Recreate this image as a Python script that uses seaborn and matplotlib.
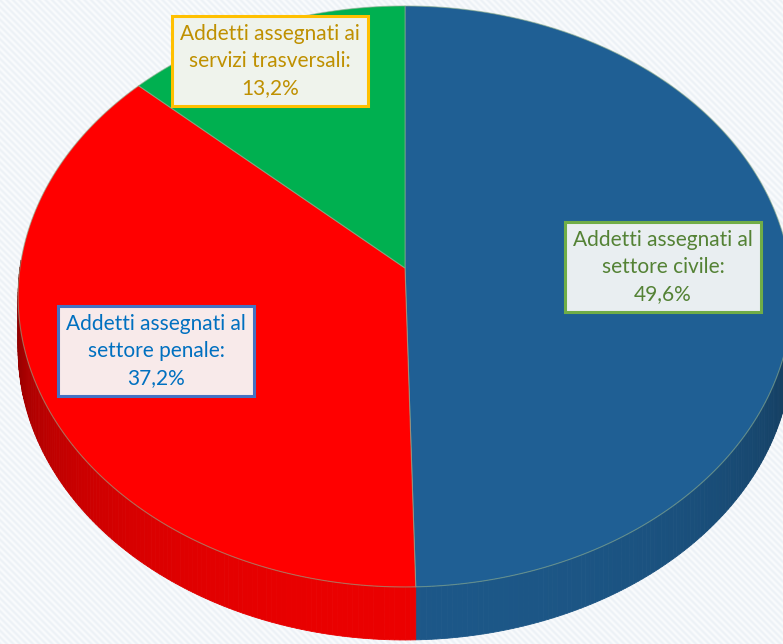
import numpy as np
import matplotlib
matplotlib.use("Agg")
import matplotlib.pyplot as plt
from matplotlib.patches import Polygon
import matplotlib.colors as mcolors
import seaborn as sns

# ---- data -------------------------------------------------------------
label_heads = [
    "Addetti assegnati al\nsettore civile:",
    "Addetti assegnati al\nsettore penale:",
    "Addetti assegnati ai\nservizi trasversali:",
]
shares = [49.6, 37.2, 13.2]
slice_colors = ["#1f5f94", "#ff0000", "#00b050"]
text_colors = ["#548235", "#0070c0", "#bf9000"]
box_faces = ["#e9eef1", "#f8eaea", "#eff3ec"]
box_edges = ["#70ad47", "#4472c4", "#ffc000"]

# ---- figure -----------------------------------------------------------
W, H = 783, 644
sns.set_theme(style="white")
plt.rcParams["font.family"] = ["Lato", "DejaVu Sans"]

fig = plt.figure(figsize=(W / 100, H / 100), dpi=100)
ax = fig.add_axes([0, 0, 1, 1])

# slice geometry computed by matplotlib's pie
wedges, _ = ax.pie(shares, colors=slice_colors, startangle=90,
                   counterclock=False, radius=1.0, center=(0, 0))
geom = [(w.theta1, w.theta2) for w in wedges]
for w in wedges:
    w.remove()

ax.set_aspect("auto")
ax.set_xlim(0, W)
ax.set_ylim(H, 0)
ax.axis("off")

# faint diagonal stripe background
yy, xx = np.mgrid[0:H, 0:W]
phase = 0.5 + 0.5 * np.cos(2 * np.pi * (xx - yy) / 6.5)
base = np.array([0.978, 0.985, 0.992])
stripe = np.array([0.88, 0.91, 0.94])
mix = phase[..., None] * 0.5
bg = base[None, None, :] * (1 - mix) + stripe[None, None, :] * mix
ax.imshow(bg, extent=(0, W, H, 0), interpolation="bilinear", zorder=0, aspect="auto")

# perspective view of the disc
CX, CY, RX, RY, K = 405.0, 268.0, 385.0, 287.7, 0.098
DEPTH = 53.0


def project(u, v, drop=0.0):
    w = 1.0 + K * v
    return CX + RX * u / w, CY - RY * v / w + drop


# side wall (front half only), shaded by orientation
for (t1, t2), col in zip(geom, slice_colors):
    rgb = np.array(mcolors.to_rgb(col))
    ts = np.linspace(t1, t2, max(int((t2 - t1) / 0.7), 2))
    for a, b in zip(ts[:-1], ts[1:]):
        mid = np.radians(0.5 * (a + b))
        if np.sin(mid) > 0.03:
            continue
        lit = max(-np.sin(mid), 0.0)
        factor = 0.42 + 0.5 * lit ** 0.6
        ra, rb = np.radians(a), np.radians(b)
        x1, y1 = project(np.cos(ra), np.sin(ra))
        x2, y2 = project(np.cos(rb), np.sin(rb))
        x3, y3 = project(np.cos(rb), np.sin(rb), DEPTH)
        x4, y4 = project(np.cos(ra), np.sin(ra), DEPTH)
        c = np.clip(rgb * factor, 0, 1)
        ax.add_patch(Polygon([(x1, y1), (x2, y2), (x3, y3), (x4, y4)],
                             closed=True, fc=c, ec=c, lw=0.6, zorder=2))

# top face of each slice
for (t1, t2), col in zip(geom, slice_colors):
    ts = np.radians(np.linspace(t1, t2, 240))
    xs, ys = project(np.cos(ts), np.sin(ts))
    pts = [project(0.0, 0.0)] + list(zip(xs, ys))
    ax.add_patch(Polygon(pts, closed=True, fc=col,
                         ec=(0.55, 0.68, 0.55, 0.6), lw=0.8, zorder=3,
                         joinstyle="round"))

# data labels
label_pos = [(663, 267), (156, 351), (270, 61)]
for head, val, pos, tc, fc, ec in zip(label_heads, shares, label_pos,
                                      text_colors, box_faces, box_edges):
    txt = head + "\n" + f"{val:.1f}".replace(".", ",") + "%"
    ax.text(pos[0], pos[1], txt, ha="center", va="center", color=tc,
            fontsize=15, linespacing=1.45, zorder=5,
            bbox=dict(boxstyle="square,pad=0.38", fc=fc, ec=ec, lw=2.2))

fig.savefig("out.png", dpi=100)
